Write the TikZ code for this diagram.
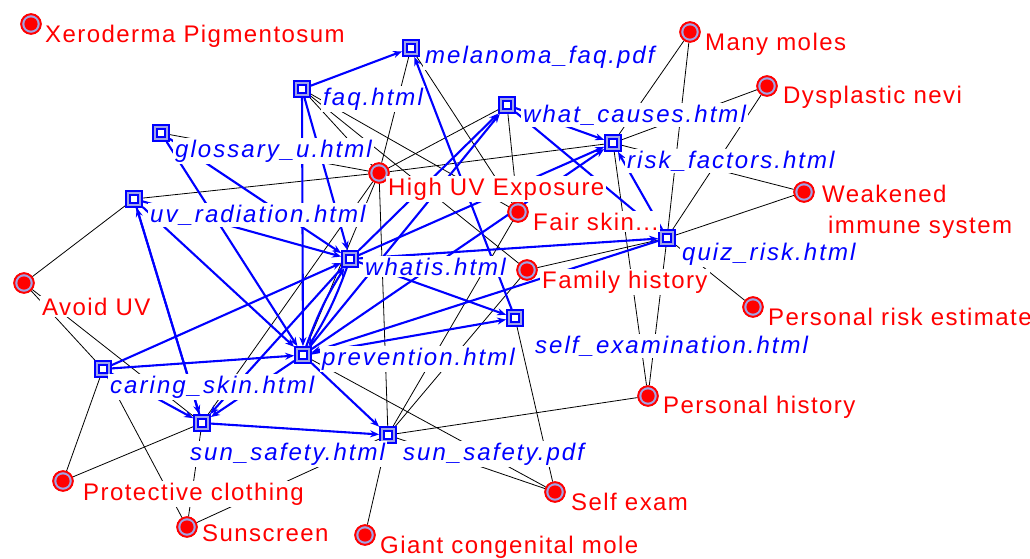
\documentclass[tikz,border=0pt]{standalone}
\usepackage{fontspec}
\setmainfont{Liberation Sans}
\newfontfamily\redfont[LetterSpace=6]{Liberation Sans}
\newfontfamily\bluefont[LetterSpace=8.5]{Liberation Sans}
\usetikzlibrary{arrows.meta}
\definecolor{lav}{RGB}{160,165,230}
\begin{document}
\begin{tikzpicture}[x=1pt,y=-1pt,
  page/.style={rectangle, draw=blue, line width=2.2pt, fill=lav, minimum size=15.5pt, inner sep=0pt,
    path picture={\draw[blue,line width=1.5pt,fill=white] ([shift={(-4pt,-4pt)}]path picture bounding box.center) rectangle ++(8pt,8pt);}},
  concept/.style={circle, draw=red, line width=1.8pt, fill=lav, minimum size=19.5pt, inner sep=0pt,
    path picture={\fill[red] (path picture bounding box.center) circle (6.6pt);}},
  rlabel/.style={anchor=base west, fill=white, inner sep=2pt, text=red, font=\redfont\fontsize{24}{28}\selectfont},
  blabel/.style={anchor=base west, fill=white, inner sep=2pt, text=blue, font=\bluefont\itshape\fontsize{24}{28}\selectfont},
  bedge/.style={draw=blue, line width=2.1pt, -{Stealth[length=9pt,width=7pt]}},
  kedge/.style={draw=black, line width=0.8pt}
]
\useasboundingbox (0,0) rectangle (1030,558);
% concept nodes
\node[concept] (xero) at (31,24) {};
\node[concept] (many) at (690,32) {};
\node[concept] (dysp) at (767,86) {};
\node[concept] (weak) at (804,192) {};
\node[concept] (highuv) at (379,173) {};
\node[concept] (fair) at (518,212) {};
\node[concept] (family) at (527,270) {};
\node[concept] (avoid) at (24,283) {};
\node[concept] (prisk) at (753,307) {};
\node[concept] (phist) at (648,396) {};
\node[concept] (protect) at (63,481) {};
\node[concept] (sunscreen) at (187,527) {};
\node[concept] (selfexam) at (555,492) {};
\node[concept] (giant) at (365,535) {};
% page nodes
\node[page] (melanoma) at (411,48) {};
\node[page] (faq) at (302,89) {};
\node[page] (whatcauses) at (507,105) {};
\node[page] (glossary) at (161,133) {};
\node[page] (risk) at (613,143) {};
\node[page] (uvrad) at (134,199) {};
\node[page] (quiz) at (667,238) {};
\node[page] (whatis) at (350,259) {};
\node[page] (selfex) at (515,318) {};
\node[page] (prevention) at (303,355) {};
\node[page] (caring) at (103,369) {};
\node[page] (sunhtml) at (202,423) {};
\node[page] (sunpdf) at (388,435) {};
% black edges
\foreach \a/\b in {highuv/melanoma, highuv/uvrad, highuv/glossary, highuv/whatcauses, highuv/risk,
  highuv/sunhtml, highuv/prevention, highuv/sunpdf, highuv/faq,
  fair/sunpdf, fair/melanoma, fair/faq, fair/whatcauses,
  family/sunpdf, family/faq, family/quiz,
  many/risk, many/quiz, dysp/risk, dysp/quiz, weak/risk, weak/quiz, prisk/quiz,
  phist/risk, phist/quiz, phist/sunpdf,
  selfexam/selfex, selfexam/sunpdf, selfexam/prevention,
  giant/sunpdf, sunscreen/caring, sunscreen/sunhtml, sunscreen/sunpdf,
  protect/caring, protect/sunhtml, avoid/uvrad, avoid/caring, avoid/sunhtml}
  \draw[kedge] (\a) -- (\b);
% blue edges
\foreach \a/\b in {faq/melanoma, selfex/melanoma, faq/whatis, faq/prevention, glossary/whatis,
  glossary/prevention, uvrad/whatis, uvrad/prevention, caring/whatis, caring/prevention,
  caring/sunhtml, sunhtml/uvrad, uvrad/sunhtml, sunhtml/sunpdf, prevention/sunpdf, prevention/sunhtml,
  whatis/sunhtml, whatis/whatcauses, prevention/whatcauses, whatcauses/risk, whatcauses/quiz,
  quiz/risk, whatis/risk, prevention/risk, whatis/quiz, quiz/prevention, whatis/selfex, prevention/selfex}
  \draw[bedge] (\a) -- (\b);
\draw[bedge] (whatis) to[bend left=6] (prevention);
\draw[bedge] (prevention) to[bend left=6] (whatis);
% redraw icons on top of the connectors
\foreach \x/\y in {31/24, 690/32, 767/86, 804/192, 379/173, 518/212,
  527/270, 24/283, 753/307, 648/396, 63/481, 187/527, 555/492, 365/535}
  \node[concept] at (\x,\y) {};
\foreach \x/\y in {411/48, 302/89, 507/105, 161/133, 613/143,
  134/199, 667/238, 350/259, 515/318, 303/355, 103/369, 202/423, 388/435}
  \node[page] at (\x,\y) {};
% labels
\node[rlabel] (lxero) at (43,42) {Xeroderma Pigmentosum};
\node[rlabel] (lmany) at (703,50) {Many moles};
\node[rlabel] (ldysp) at (781,103) {Dysplastic nevi};
\node[rlabel] (lweaka) at (820,202) {Weakened};
\node[rlabel] (lweakb) at (826,233) {immune system};
\node[rlabel] (lhighuv) at (386,195) {High UV Exposure};
\node[rlabel] (lfair) at (531,230) {Fair skin...};
\node[rlabel] (lfamily) at (540,288) {Family history};
\node[rlabel] (lavoid) at (40,315) {Avoid UV};
\node[rlabel] (lprisk) at (766,325) {Personal risk estimate};
\node[rlabel] (lphist) at (661,413) {Personal history};
\node[rlabel] (lprotect) at (81,500) {Protective clothing};
\node[rlabel] (lsunscreen) at (200,541) {Sunscreen};
\node[rlabel] (lselfexam) at (569,510) {Self exam};
\node[rlabel] (lgiant) at (378,553) {Giant congenital mole};
\node[blabel] (lmelanoma) at (423,63) {melanoma\_faq.pdf};
\node[blabel] (lfaq) at (321,105) {faq.html};
\node[blabel] (lwhatcauses) at (521,122) {what\_causes.html};
\node[blabel] (lglossary) at (173,157) {glossary\_u.html};
\node[blabel] (lrisk) at (625,168) {risk\_factors.html};
\node[blabel] (luvrad) at (148,222) {uv\_radiation.html};
\node[blabel] (lquiz) at (680,260) {quiz\_risk.html};
\node[blabel] (lwhatis) at (363,275) {whatis.html};
\node[blabel] (lselfex) at (533,353) {self\_examination.html};
\node[blabel] (lprevention) at (320,365) {prevention.html};
\node[blabel] (lcaring) at (108,393) {caring\_skin.html};
\node[blabel] (lsunhtml) at (188,460) {sun\_safety.html};
\node[blabel] (lsunpdf) at (401,460) {sun\_safety.pdf};
\end{tikzpicture}
\end{document}
